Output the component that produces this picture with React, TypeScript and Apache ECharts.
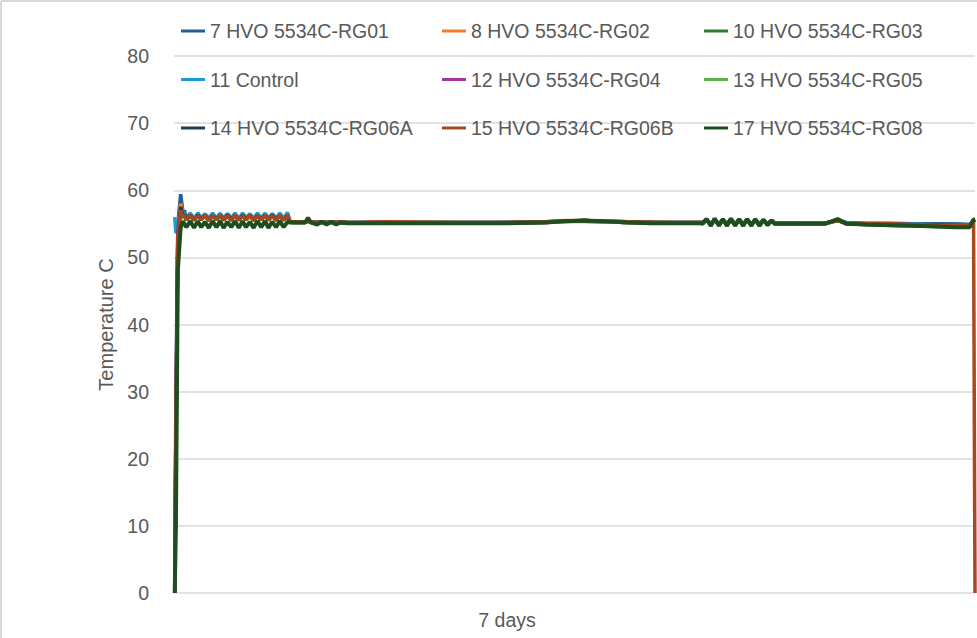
import React, { useEffect, useRef } from "react";
import * as echarts from "echarts";

// Time in hours over the 7 day run (shared sample points)
const hours = [
  0.15, 0.4, 0.8, 1.4, 1.9, 2.2,
  2.6, 3.4, 4.2, 5.0, 5.7, 6.5, 7.3, 8.1, 8.9, 9.7, 10.4, 11.2, 12.0, 12.8, 13.6, 14.4, 15.1, 15.9, 16.7, 17.5, 18.3, 19.1, 19.8, 20.6, 21.4, 22.2, 23.0, 23.8,
  24.3, 24.6,
  26.0, 27.5, 28.1, 28.7, 30.0, 31.0, 32.0, 33.0, 34.0, 35.0, 36.3, 40, 45, 51, 60, 70, 78, 82, 86, 90, 95, 100, 105, 110,
  110.9, 111.7, 112.6, 113.4, 114.3, 115.1, 116.0, 116.8, 117.7, 118.5, 119.4, 120.2, 121.1, 121.9, 122.8, 123.6, 124.5, 125.3, 126.0,
  128, 132, 136.5, 139.2, 141, 145, 150, 155, 160, 164, 166.9, 167.7, 168,
];

const rg01 = [
  0, 30, 55, 59.4, 56.6, 57.0,
  55.8, 56.5, 55.7, 56.5, 55.8, 56.4, 55.8, 56.5, 55.7, 56.4, 55.8, 56.5, 55.8, 56.4, 55.7, 56.5, 55.8, 56.4, 55.8, 56.5, 55.7, 56.4, 55.8, 56.5, 55.8, 56.4, 55.7, 56.5,
  55.4, 55.3,
  55.3, 55.3, 55.5, 55.3, 55.2, 55.3, 55.2, 55.3, 55.2, 55.3, 55.2, 55.2, 55.3, 55.2, 55.2, 55.2, 55.3, 55.4, 55.5, 55.4, 55.3, 55.2, 55.2, 55.2,
  55.2, 55.7, 54.9, 55.7, 54.9, 55.6, 54.9, 55.7, 54.9, 55.6, 54.9, 55.7, 54.9, 55.6, 54.9, 55.6, 55.0, 55.5, 55.1,
  55.1, 55.1, 55.1, 55.6, 55.2, 55.1, 55.1, 55.0, 55.0, 55.0, 54.9, 55.6, 55.7,
];
const rg02 = [
  0, 25, 54, 58.0, 56.3, 56.6,
  55.7, 56.3, 55.6, 56.3, 55.7, 56.2, 55.6, 56.3, 55.7, 56.2, 55.6, 56.3, 55.7, 56.2, 55.6, 56.3, 55.7, 56.2, 55.6, 56.3, 55.7, 56.2, 55.6, 56.3, 55.7, 56.2, 55.6, 56.3,
  55.4, 55.3,
  55.3, 55.3, 55.4, 55.3, 55.2, 55.3, 55.2, 55.3, 55.2, 55.3, 55.2, 55.2, 55.3, 55.3, 55.2, 55.2, 55.3, 55.5, 55.5, 55.4, 55.3, 55.3, 55.2, 55.2,
  55.2, 55.6, 54.9, 55.6, 54.9, 55.6, 55.0, 55.6, 54.9, 55.6, 55.0, 55.6, 54.9, 55.6, 55.0, 55.5, 55.0, 55.5, 55.1,
  55.1, 55.0, 55.1, 55.5, 55.1, 55.0, 55.0, 54.9, 54.8, 54.8, 54.8, 55.5, 55.6,
];
const rg03 = [
  0, 20, 52, 56.6, 55.9, 56.1,
  55.6, 56.2, 55.6, 56.1, 55.6, 56.2, 55.5, 56.1, 55.6, 56.2, 55.6, 56.1, 55.5, 56.2, 55.6, 56.1, 55.6, 56.2, 55.5, 56.1, 55.6, 56.2, 55.6, 56.1, 55.5, 56.2, 55.6, 56.1,
  55.3, 55.2,
  55.2, 55.2, 55.4, 55.2, 55.1, 55.2, 55.1, 55.2, 55.1, 55.2, 55.1, 55.1, 55.2, 55.1, 55.1, 55.1, 55.2, 55.4, 55.4, 55.3, 55.2, 55.1, 55.1, 55.1,
  55.1, 55.7, 54.8, 55.7, 54.8, 55.7, 54.8, 55.7, 54.8, 55.7, 54.8, 55.7, 54.8, 55.7, 54.8, 55.6, 54.9, 55.5, 55.0,
  55.0, 55.0, 55.0, 55.6, 55.0, 54.9, 54.8, 54.7, 54.6, 54.6, 54.6, 55.5, 55.6,
];
const control = [
  56.0, 53.6, 54.6, 56.9, 56.2, 56.7,
  55.9, 56.6, 55.8, 56.6, 55.9, 56.5, 55.8, 56.6, 55.9, 56.6, 55.8, 56.5, 55.9, 56.6, 55.8, 56.6, 55.9, 56.5, 55.8, 56.6, 55.9, 56.6, 55.8, 56.5, 55.9, 56.6, 55.8, 56.7,
  55.5, 55.3,
  55.3, 55.3, 55.4, 55.3, 55.2, 55.3, 55.2, 55.3, 55.2, 55.3, 55.2, 55.2, 55.2, 55.2, 55.2, 55.2, 55.3, 55.4, 55.5, 55.4, 55.3, 55.2, 55.2, 55.2,
  55.2, 55.6, 55.0, 55.6, 55.0, 55.6, 55.0, 55.6, 55.0, 55.6, 55.0, 55.6, 55.0, 55.6, 55.0, 55.5, 55.0, 55.5, 55.1,
  55.1, 55.1, 55.1, 55.5, 55.2, 55.1, 55.0, 55.0, 54.9, 54.9, 54.9, 55.5, 55.6,
];
const rg04 = [
  0, 25, 54, 57.1, 56.1, 56.3,
  55.6, 56.2, 55.6, 56.2, 55.7, 56.2, 55.6, 56.2, 55.6, 56.1, 55.6, 56.2, 55.7, 56.2, 55.6, 56.2, 55.6, 56.1, 55.6, 56.2, 55.7, 56.2, 55.6, 56.2, 55.6, 56.1, 55.6, 56.2,
  55.3, 55.2,
  55.2, 55.2, 55.4, 55.2, 55.2, 55.2, 55.1, 55.2, 55.2, 55.2, 55.1, 55.2, 55.2, 55.1, 55.1, 55.2, 55.2, 55.4, 55.4, 55.3, 55.2, 55.2, 55.1, 55.1,
  55.1, 55.6, 54.9, 55.6, 54.9, 55.6, 54.9, 55.6, 54.9, 55.6, 54.9, 55.6, 54.9, 55.6, 54.9, 55.5, 55.0, 55.4, 55.0,
  55.0, 55.0, 55.0, 55.5, 55.0, 54.9, 54.9, 54.8, 54.7, 54.7, 54.7, 55.5, 55.6,
];
const rg05 = [
  0, 20, 52, 56.5, 55.8, 56.2,
  55.6, 56.1, 55.5, 56.2, 55.6, 56.1, 55.5, 56.2, 55.6, 56.1, 55.5, 56.2, 55.6, 56.1, 55.5, 56.2, 55.6, 56.1, 55.5, 56.2, 55.6, 56.1, 55.5, 56.2, 55.6, 56.1, 55.5, 56.2,
  55.3, 55.2,
  55.2, 55.2, 55.3, 55.2, 55.1, 55.2, 55.1, 55.2, 55.1, 55.2, 55.1, 55.1, 55.2, 55.1, 55.1, 55.1, 55.2, 55.3, 55.4, 55.3, 55.2, 55.1, 55.1, 55.1,
  55.1, 55.6, 54.8, 55.6, 54.8, 55.6, 54.8, 55.6, 54.8, 55.6, 54.8, 55.6, 54.8, 55.6, 54.8, 55.5, 54.9, 55.4, 55.0,
  55.0, 55.0, 55.0, 55.5, 55.0, 54.9, 54.8, 54.7, 54.6, 54.6, 54.6, 55.5, 55.6,
];
const rg06a = [
  0, 25, 53, 57.5, 56.2, 56.4,
  55.7, 56.3, 55.6, 56.3, 55.7, 56.3, 55.6, 56.2, 55.7, 56.3, 55.6, 56.3, 55.7, 56.2, 55.6, 56.3, 55.7, 56.3, 55.6, 56.2, 55.7, 56.3, 55.6, 56.3, 55.7, 56.2, 55.6, 56.3,
  55.3, 55.3,
  55.3, 55.3, 55.4, 55.3, 55.2, 55.3, 55.2, 55.3, 55.2, 55.3, 55.2, 55.2, 55.2, 55.2, 55.2, 55.2, 55.3, 55.4, 55.5, 55.4, 55.3, 55.2, 55.2, 55.2,
  55.2, 55.6, 54.9, 55.6, 54.9, 55.6, 54.9, 55.6, 54.9, 55.6, 54.9, 55.6, 54.9, 55.6, 54.9, 55.5, 55.0, 55.5, 55.1,
  55.1, 55.1, 55.1, 55.5, 55.1, 55.0, 55.0, 54.9, 54.9, 54.8, 54.8, 55.5, 55.6,
];
const rg06b = [
  0, 22, 53, 57.0, 56.0, 56.3,
  55.6, 56.3, 55.6, 56.2, 55.6, 56.3, 55.5, 56.2, 55.6, 56.3, 55.6, 56.2, 55.5, 56.3, 55.6, 56.2, 55.6, 56.3, 55.5, 56.2, 55.6, 56.3, 55.6, 56.2, 55.5, 56.3, 55.6, 56.3,
  55.4, 55.3,
  55.3, 55.3, 55.4, 55.3, 55.2, 55.3, 55.2, 55.3, 55.2, 55.3, 55.2, 55.2, 55.3, 55.2, 55.2, 55.2, 55.3, 55.4, 55.5, 55.4, 55.3, 55.2, 55.2, 55.2,
  55.2, 55.6, 54.9, 55.6, 54.9, 55.6, 54.9, 55.6, 54.9, 55.6, 54.9, 55.6, 54.9, 55.6, 54.9, 55.5, 55.0, 55.5, 55.1,
  55.1, 55.1, 55.1, 55.5, 55.1, 55.0, 55.0, 54.9, 54.8, 54.8, 54.8, 55.6, 0,
];
const rg08 = [
  0, 10, 48, 54.5, 55.4, 54.9,
  54.5, 55.4, 54.4, 55.4, 54.5, 55.3, 54.4, 55.4, 54.5, 55.4, 54.4, 55.3, 54.5, 55.4, 54.4, 55.4, 54.5, 55.3, 54.4, 55.4, 54.5, 55.4, 54.4, 55.3, 54.5, 55.4, 54.5, 55.3,
  55.2, 55.2,
  55.2, 55.2, 55.9, 55.2, 54.9, 55.3, 54.9, 55.3, 54.9, 55.2, 55.1, 55.1, 55.1, 55.1, 55.1, 55.1, 55.2, 55.4, 55.5, 55.4, 55.2, 55.1, 55.1, 55.1,
  55.0, 55.7, 54.7, 55.8, 54.7, 55.7, 54.7, 55.8, 54.7, 55.7, 54.7, 55.7, 54.7, 55.7, 54.7, 55.6, 54.8, 55.5, 55.0,
  55.0, 55.0, 55.0, 55.7, 55.0, 54.9, 54.8, 54.7, 54.6, 54.5, 54.5, 55.6, 55.7,
];

const seriesNames = [
  "7 HVO 5534C-RG01",
  "8 HVO 5534C-RG02",
  "10 HVO 5534C-RG03",
  "11 Control",
  "12 HVO 5534C-RG04",
  "13 HVO 5534C-RG05",
  "14 HVO 5534C-RG06A",
  "15 HVO 5534C-RG06B",
  "17 HVO 5534C-RG08",
];
const seriesValues = [rg01, rg02, rg03, control, rg04, rg05, rg06a, rg06b, rg08];
const seriesColors = [
  "#255E91", "#ED7D31", "#2E7D32", "#1E9BD7", "#A5369B", "#5BB342", "#1C3F55", "#A8481D", "#1E4D1E",
];

const yTicks = { min: 0, max: 80, interval: 10 };
const xRange = { min: 0, max: 168 };
const xTitle = "7 days";
const yTitle = "Temperature C";

const FONT = "'Liberation Sans', Arial, sans-serif";
const TXT = "#595959";

export default function App() {
  const ref = useRef<HTMLDivElement>(null);
  useEffect(() => {
    if (!ref.current) return;
    const chart = echarts.init(ref.current, undefined, { renderer: "svg" });
    const legendCols = [
      { left: 176, items: [seriesNames[0], seriesNames[3], seriesNames[6]] },
      { left: 437, items: [seriesNames[1], seriesNames[4], seriesNames[7]] },
      { left: 699, items: [seriesNames[2], seriesNames[5], seriesNames[8]] },
    ];
    chart.setOption({
      animation: false,
      backgroundColor: "#ffffff",
      textStyle: { fontFamily: FONT },
      grid: { left: 174, right: 2, top: 56, bottom: 45, containLabel: false },
      legend: legendCols.map((c) => ({
        orient: "vertical",
        left: c.left,
        top: 14,
        itemGap: 24.5,
        itemWidth: 24,
        itemHeight: 3,
        icon: "rect",
        data: c.items,
        textStyle: { fontSize: 19.5, color: TXT, lineHeight: 24, fontFamily: FONT },
      })),
      xAxis: {
        type: "value",
        min: xRange.min,
        max: xRange.max,
        axisLine: { show: false },
        axisTick: { show: false },
        axisLabel: { show: false },
        splitLine: { show: false },
        name: xTitle,
        nameLocation: "middle",
        nameGap: 17,
        nameTextStyle: { fontSize: 19.5, color: TXT, fontFamily: FONT, padding: [0, 135, 0, 0], verticalAlign: "top" },
      },
      yAxis: {
        type: "value",
        min: yTicks.min,
        max: yTicks.max,
        interval: yTicks.interval,
        axisLine: { show: false },
        axisTick: { show: false },
        axisLabel: { fontSize: 19.5, color: TXT, margin: 25, fontFamily: FONT },
        splitLine: { lineStyle: { color: "#d9d9d9", width: 1.5 } },
        name: yTitle,
        nameLocation: "middle",
        nameGap: 58,
        nameTextStyle: { fontSize: 20, color: TXT, fontFamily: FONT },
      },
      graphic: [
        { type: "line", shape: { x1: 1, y1: 1, x2: 977, y2: 1 }, style: { stroke: "#d9d9d9", lineWidth: 2 } },
        { type: "line", shape: { x1: 1, y1: 1, x2: 1, y2: 638 }, style: { stroke: "#d9d9d9", lineWidth: 2 } },
      ],
      series: seriesNames.map((name, i) => ({
        name,
        type: "line",
        symbol: "none",
        data: hours.map((h, j) => [h, seriesValues[i][j]]),
        lineStyle: { color: seriesColors[i], width: i === 8 ? 4 : 3.5 },
        itemStyle: { color: seriesColors[i] },
      })),
    });
    return () => chart.dispose();
  }, []);
  return (
    <div
      ref={ref}
      style={{ position: "absolute", left: 0, top: 0, width: 977, height: 638, background: "#fff" }}
    />
  );
}
